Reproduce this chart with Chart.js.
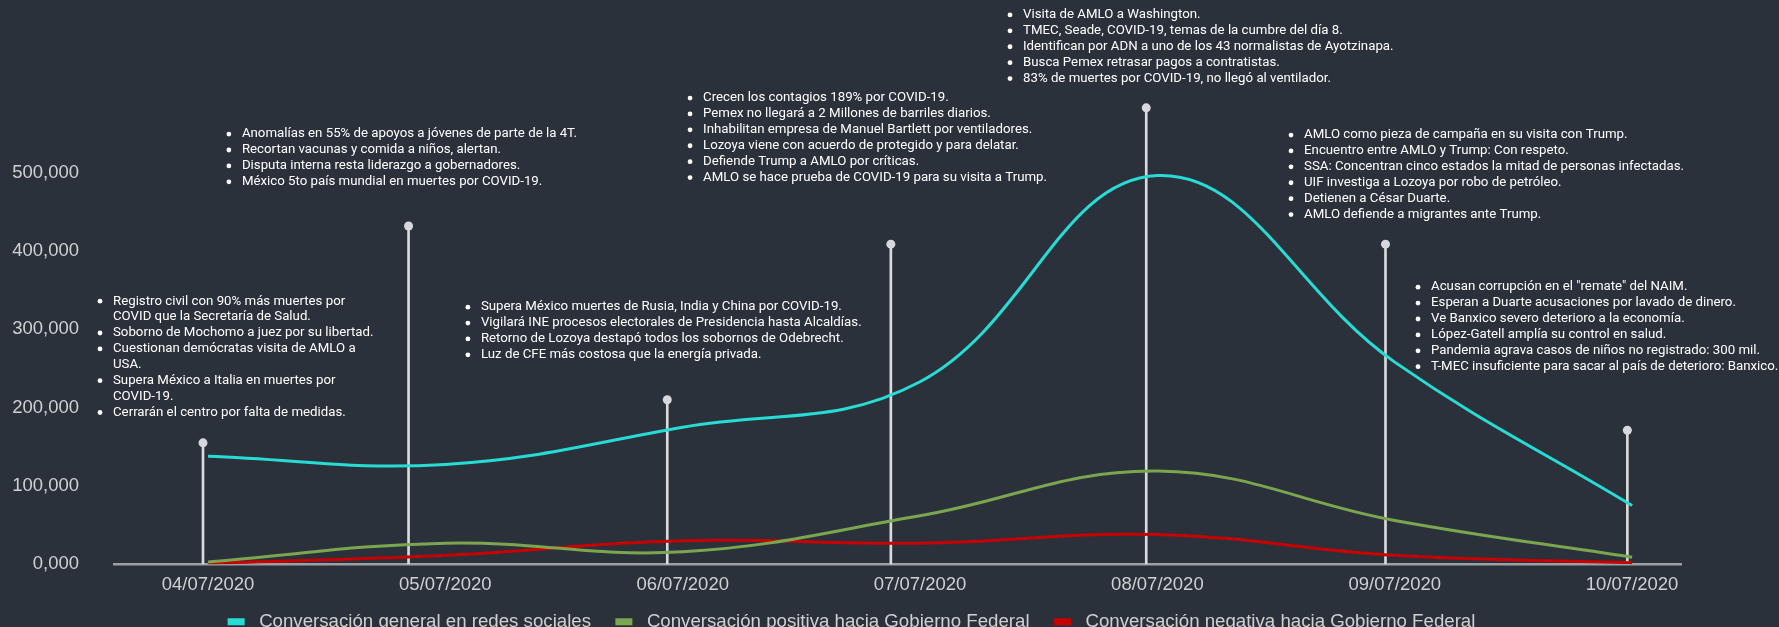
<!DOCTYPE html>
<html><head><meta charset="utf-8">
<script src="https://cdn.jsdelivr.net/npm/chart.js@4/dist/chart.umd.min.js"></script>
<style>
html,body{margin:0;padding:0;background:#2b313b;overflow:hidden;}
#wrap{position:relative;width:1779px;height:641px;}
</style></head><body>
<div id="wrap"><canvas id="c"></canvas></div>
<script>
// ---- data ----
const dates = ['04/07/2020','05/07/2020','06/07/2020','07/07/2020','08/07/2020','09/07/2020','10/07/2020'];
const seriesNames = ['Conversación general en redes sociales','Conversación positiva hacia Gobierno Federal','Conversación negativa hacia Gobierno Federal'];
const general  = [138000, 127500, 175000, 233000, 496000, 258000, 75000];
const positive = [3000, 27000, 16000, 62000, 119000, 56000, 9000];
const negative = [1000, 11500, 30000, 27000, 38000, 11500, 2000];
// event markers (position along the date axis, height)
const markerX = [-0.021, 0.845, 1.935, 2.877, 3.953, 4.961, 5.98];
const markerY = [155000, 431700, 210000, 408500, 582400, 408500, 171000];
const yTickValues = [0,100000,200000,300000,400000,500000];
const yTickLabels = ['0,000','100,000','200,000','300,000','400,000','500,000'];
const notes = [
  ['Registro civil con 90% más muertes por\nCOVID que la Secretaría de Salud.','Soborno de Mochomo a juez por su libertad.','Cuestionan demócratas visita de AMLO a\nUSA.','Supera México a Italia en muertes por\nCOVID-19.','Cerrarán el centro por falta de medidas.'],
  ['Anomalías en 55% de apoyos a jóvenes de parte de la 4T.','Recortan vacunas y comida a niños, alertan.','Disputa interna resta liderazgo a gobernadores.','México 5to país mundial en muertes por COVID-19.'],
  ['Supera México muertes de Rusia, India y China por COVID-19.','Vigilará INE procesos electorales de Presidencia hasta Alcaldías.','Retorno de Lozoya destapó todos los sobornos de Odebrecht.','Luz de CFE más costosa que la energía privada.'],
  ['Crecen los contagios 189% por COVID-19.','Pemex no llegará a 2 Millones de barriles diarios.','Inhabilitan empresa de Manuel Bartlett por ventiladores.','Lozoya viene con acuerdo de protegido y para delatar.','Defiende Trump a AMLO por críticas.','AMLO se hace prueba de COVID-19 para su visita a Trump.'],
  ['Visita de AMLO a Washington.','TMEC, Seade, COVID-19, temas de la cumbre del día 8.','Identifican por ADN a uno de los 43 normalistas de Ayotzinapa.','Busca Pemex retrasar pagos a contratistas.','83% de muertes por COVID-19, no llegó al ventilador.'],
  ['AMLO como pieza de campaña en su visita con Trump.','Encuentro entre AMLO y Trump: Con respeto.','SSA: Concentran cinco estados la mitad de personas infectadas.','UIF investiga a Lozoya por robo de petróleo.','Detienen a César Duarte.','AMLO defiende a migrantes ante Trump.'],
  ['Acusan corrupción en el "remate" del NAIM.','Esperan a Duarte acusaciones por lavado de dinero.','Ve Banxico severo deterioro a la economía.','López-Gatell amplía su control en salud.','Pandemia agrava casos de niños no registrado: 300 mil.','T-MEC insuficiente para sacar al país de deterioro: Banxico.']
];
// ---- layout of note blocks (axis units) ----
const noteX = [-0.455, 0.088, 1.095, 2.031, 3.379, 4.563, 5.098];
const noteY = [335700, 548900, 328100, 594900, 700900, 547700, 353600];

const colors = ['#27dcd4','#7ba64f','#c80000'];
const tickColor = '#cfd0d2';

const notesPlugin = {
  id: 'notes',
  afterDatasetsDraw(chart) {
    const {ctx, scales: {x, y}} = chart;
    ctx.save();
    ctx.font = '13.25px Roboto';
    ctx.fillStyle = '#ffffff';
    ctx.textBaseline = 'middle';
    ctx.textAlign = 'left';
    notes.forEach((items, k) => {
      const bx = x.getPixelForValue(noteX[k]);
      let cy = y.getPixelForValue(noteY[k]);
      items.forEach(item => {
        ctx.beginPath(); ctx.arc(bx, cy, 2.4, 0, Math.PI * 2); ctx.fill();
        item.split('\n').forEach(line => { ctx.fillText(line, bx + 13, cy); cy += 15.9; });
      });
    });
    ctx.restore();
  }
};

const lineSets = [general, positive, negative].map((arr, i) => ({
  type: 'line',
  label: seriesNames[i],
  data: arr.map((v, j) => ({x: j, y: v})),
  borderColor: colors[i],
  backgroundColor: colors[i],
  borderWidth: 3,
  tension: 0.4,
  pointRadius: 0,
  fill: false,
  order: 1
}));

new Chart(document.getElementById('c'), {
  type: 'line',
  data: {
    datasets: [
      ...lineSets,
      { type: 'bar', label: 'stems', data: markerX.map((x, i) => ({x, y: markerY[i]})),
        backgroundColor: '#d9dadc', barThickness: 2, grouped: false, order: 3 },
      { type: 'line', showLine: false, label: 'heads', data: markerX.map((x, i) => ({x, y: markerY[i]})),
        backgroundColor: '#d6d8de', borderWidth: 0, pointRadius: 4.5, order: 2 }
    ]
  },
  options: {
    responsive: true,
    maintainAspectRatio: false,
    animation: false,
    layout: { autoPadding: false, padding: { left: 22, right: 98, top: 0, bottom: 0 } },
    scales: {
      x: {
        type: 'linear', min: -0.396, max: 6.206, offset: false, bounds: 'data',
        afterBuildTicks: a => { a.ticks = dates.map((d, i) => ({value: i})); },
        afterFit: a => { a.paddingLeft = 0; a.paddingRight = 0; a.height = 34; },
        ticks: { callback: v => dates[v], color: tickColor, font: {family: 'Liberation Sans', size: 18.5},
                 padding: 9, autoSkip: false, maxRotation: 0 },
        grid: { display: false, drawTicks: false, offset: false },
        border: { display: true, color: '#9d9fa3', width: 2.5 }
      },
      y: {
        type: 'linear', min: 0, max: 720000, bounds: 'data',
        afterBuildTicks: a => { a.ticks = yTickValues.map(v => ({value: v})); },
        afterFit: a => { a.width = 92; a.paddingTop = 0; a.paddingBottom = 0; a._computeLabelArea = () => undefined; },
        ticks: { callback: (v, i) => yTickLabels[i], color: tickColor, font: {family: 'Liberation Sans', size: 18.5}, padding: 35 },
        grid: { display: false, drawTicks: false },
        border: { display: false }
      }
    },
    plugins: {
      tooltip: { enabled: false },
      legend: {
        position: 'bottom',
        labels: {
          color: tickColor, font: {family: 'Liberation Sans', size: 18.67},
          boxWidth: 17, boxHeight: 7, padding: 14,
          generateLabels: chart => Chart.defaults.plugins.legend.labels.generateLabels(chart)
            .filter(l => l.datasetIndex < 3)
            .map(l => ({...l, lineWidth: 0, text: ' ' + l.text + (l.datasetIndex < 2 ? '  ' : '')}))
        }
      }
    }
  },
  plugins: [notesPlugin]
});
</script>
</body></html>
